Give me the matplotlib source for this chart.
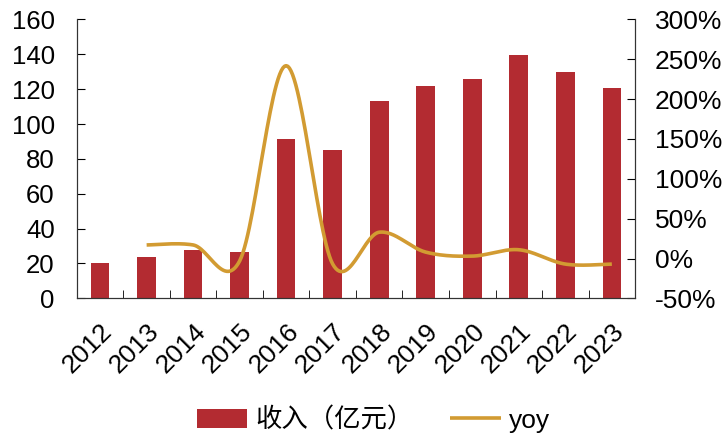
import numpy as np
import matplotlib.pyplot as plt
from matplotlib.ticker import FuncFormatter

plt.rcParams['font.family'] = ['Liberation Sans', 'Noto Sans CJK SC']

years = ['2012', '2013', '2014', '2015', '2016', '2017',
         '2018', '2019', '2020', '2021', '2022', '2023']
revenue = [20.1, 23.5, 27.5, 26.7, 91.3, 85.2, 113.3, 122.1, 125.7, 139.9, 129.8, 120.8]
yoy = [None, 17, 17, -3, 242, -7, 33, 8, 3, 11, -7, -7]

bar_color = '#B32B31'
line_color = '#D29B32'


def smooth(xs, ys, n=30):
    # excel-style smoothed line (catmull-rom bezier through the points)
    xs = np.asarray(xs, float)
    ys = np.asarray(ys, float)
    px, py = [], []
    for i in range(len(xs) - 1):
        p0 = (xs[max(i - 1, 0)], ys[max(i - 1, 0)])
        p1 = (xs[i], ys[i])
        p2 = (xs[i + 1], ys[i + 1])
        p3 = (xs[min(i + 2, len(xs) - 1)], ys[min(i + 2, len(xs) - 1)])
        c1 = (p1[0] + (p2[0] - p0[0]) / 6, p1[1] + (p2[1] - p0[1]) / 6)
        c2 = (p2[0] - (p3[0] - p1[0]) / 6, p2[1] - (p3[1] - p1[1]) / 6)
        t = np.linspace(0, 1, n)
        bx = (1-t)**3*p1[0] + 3*(1-t)**2*t*c1[0] + 3*(1-t)*t**2*c2[0] + t**3*p2[0]
        by = (1-t)**3*p1[1] + 3*(1-t)**2*t*c1[1] + 3*(1-t)*t**2*c2[1] + t**3*p2[1]
        px.extend(bx)
        py.extend(by)
    return px, py


fig = plt.figure(figsize=(7.25, 4.33), dpi=100)
ax = fig.add_axes([0.106, 0.311, 0.77, 0.644])
x = np.arange(len(years))

ax.bar(x, revenue, width=0.4, color=bar_color, label='收入（亿元）', zorder=2)
ax.set_xlim(-0.5, len(years) - 0.5)
ax.set_ylim(0, 160)
ax.set_yticks(range(0, 161, 20))
ax.set_xticks(x)
ax.set_xticklabels(years, rotation=45, ha='right', va='top', rotation_mode='anchor', fontsize=19)
ax.set_xticks(np.arange(-0.5, len(years), 1), minor=True)
ax.tick_params(axis='x', which='major', length=0, pad=15)
ax.tick_params(axis='x', which='minor', direction='in', length=6)
ax.tick_params(axis='y', direction='in', length=6, labelsize=18.5, pad=16)
ax.spines['top'].set_visible(False)

ax2 = ax.twinx()
xi = [i for i, v in enumerate(yoy) if v is not None]
yv = [v for v in yoy if v is not None]
sx, sy = smooth(xi, yv)
ax2.plot(sx, sy, color=line_color, lw=2.6, label='yoy', solid_capstyle='butt')
ax2.set_ylim(-50, 300)
ax2.set_yticks(range(-50, 301, 50))
ax2.yaxis.set_major_formatter(FuncFormatter(lambda v, p: f'{v:.0f}%'))
ax2.tick_params(axis='y', direction='in', length=6, labelsize=19, pad=14)
ax2.spines['top'].set_visible(False)

for s in ['left', 'right', 'bottom']:
    ax.spines[s].set_color('#333333')
    ax2.spines[s].set_color('#333333')

h1, l1 = ax.get_legend_handles_labels()
h2, l2 = ax2.get_legend_handles_labels()
fig.legend(h1 + h2, l1 + l2, loc='center', bbox_to_anchor=(0.515, 0.03), ncol=2,
           frameon=False, fontsize=19, handlelength=1.9, columnspacing=1.4,
           handletextpad=0.3)

fig.savefig('out.png', dpi=100)
